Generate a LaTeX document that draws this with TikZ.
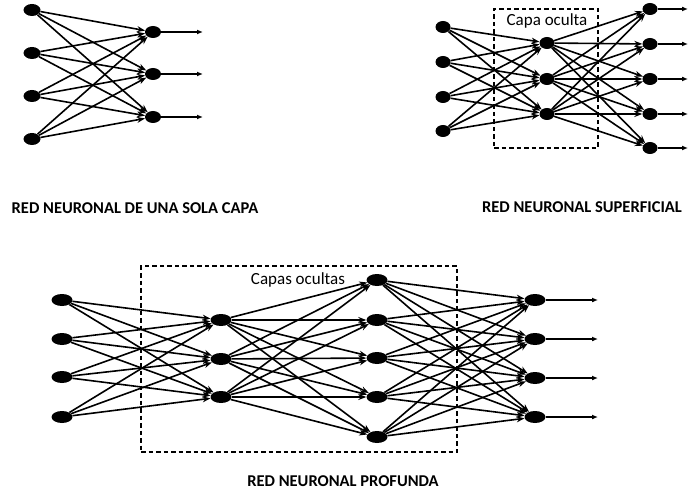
\documentclass[tikz,border=0pt]{standalone}
\usepackage{fontspec}
\setmainfont{Carlito}
\usetikzlibrary{shapes.geometric,arrows.meta}
\begin{document}
\begin{tikzpicture}[x=1pt,y=-1pt,
  neuron/.style={ellipse,fill=black,inner sep=0pt,minimum width=16pt,minimum height=12pt},
  wide/.style={neuron,minimum width=21pt,minimum height=12pt},
  small/.style={neuron,minimum width=15pt,minimum height=12pt},
  link/.style={line width=1.6pt,-{Stealth[length=8pt,width=6pt]}},
  outlink/.style={line width=1.6pt,-{Latex[length=6pt,width=5pt]}},
  hiddenbox/.style={draw,line width=1.1pt,dash pattern=on 4.5pt off 3pt},
  caption/.style={font=\bfseries\fontsize{16.5}{18}\selectfont,inner sep=0pt},
  boxlabel/.style={font=\fontsize{17}{19}\selectfont,inner sep=0pt}]
\useasboundingbox (0,0) rectangle (690,489);

% ---- single-layer network ----
\foreach \y [count=\i] in {10,53,96,139} \node[neuron,minimum width=17pt] (sa\i) at (32,\y) {};
\foreach \y [count=\j] in {32,74,117} {
  \node[neuron] (sb\j) at (153,\y) {};
  \coordinate (so\j) at (203,\y);
}
\foreach \i in {1,...,4} \foreach \j in {1,...,3} \draw[link] (sa\i) -- (sb\j);
\foreach \j in {1,...,3} \draw[outlink] (sb\j) -- (so\j);
\node[caption] (cap1) at (135,208) {RED NEURONAL DE UNA SOLA CAPA};

% ---- shallow network ----
\node[hiddenbox,minimum width=104pt,minimum height=139pt,inner sep=0pt] (box2) at (546,78.5) {};
\node[boxlabel] (lab2) at (547,21) {Capa oculta};
\foreach \y [count=\i] in {27,62,97,131} \node[small] (ma\i) at (443,\y) {};
\foreach \y [count=\j] in {43,79,114} \node[small] (mb\j) at (547,\y) {};
\foreach \y [count=\k] in {9,44,79,114,148} {
  \node[small] (mc\k) at (650,\y) {};
  \coordinate (mo\k) at (688,\y);
}
\foreach \i in {1,...,4} \foreach \j in {1,...,3} \draw[link] (ma\i) -- (mb\j);
\foreach \j in {1,...,3} \foreach \k in {1,...,5} \draw[link] (mb\j) -- (mc\k);
\foreach \k in {1,...,5} \draw[outlink] (mc\k) -- (mo\k);
\node[caption] (cap2) at (582,207) {RED NEURONAL SUPERFICIAL};

% ---- deep network ----
\node[hiddenbox,minimum width=316pt,minimum height=186pt,inner sep=0pt] (box3) at (299,359) {};
\node[boxlabel] (lab3) at (298,280) {Capas ocultas};
\foreach \y [count=\i] in {300,339,377,417} \node[wide] (da\i) at (62,\y) {};
\foreach \y [count=\j] in {320,359,397} \node[wide] (db\j) at (221,\y) {};
\foreach \y [count=\k] in {280,320,358,397,437} \node[wide] (dc\k) at (377,\y) {};
\foreach \y [count=\m] in {300,339,378,417} {
  \node[wide] (dd\m) at (535,\y) {};
  \coordinate (do\m) at (598,\y);
}
\foreach \i in {1,...,4} \foreach \j in {1,...,3} \draw[link] (da\i) -- (db\j);
\foreach \j in {1,...,3} \foreach \k in {1,...,5} \draw[link] (db\j) -- (dc\k);
\foreach \k in {1,...,5} \foreach \m in {1,...,4} \draw[link] (dc\k) -- (dd\m);
\foreach \m in {1,...,4} \draw[outlink] (dd\m) -- (do\m);
\node[caption] (cap3) at (343,481) {RED NEURONAL PROFUNDA};
\end{tikzpicture}
\end{document}
